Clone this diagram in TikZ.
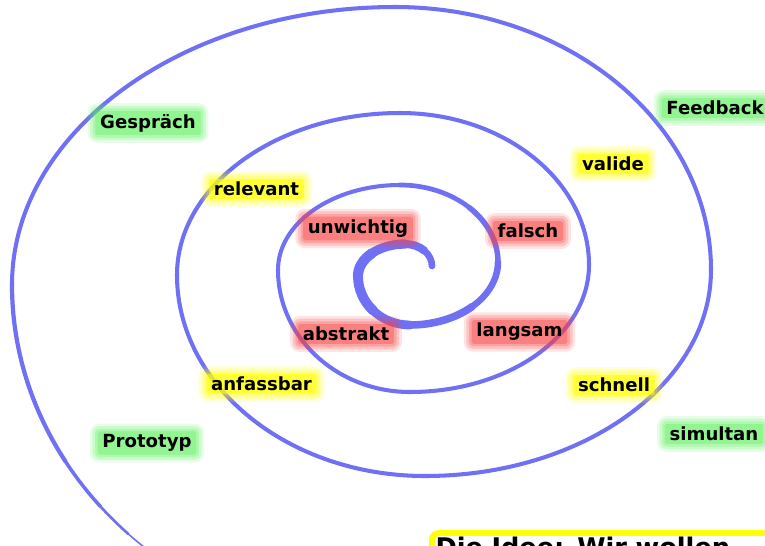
\documentclass[tikz,border=0pt]{standalone}
\usepackage{fontspec}
\setmainfont{DejaVu Sans}
\usetikzlibrary{positioning}

\definecolor{spiralblue}{RGB}{112,112,245}
\definecolor{glowgreen}{RGB}{91,240,91}
\definecolor{glowyellow}{RGB}{255,255,0}
\definecolor{glowred}{RGB}{247,65,65}

\pgfdeclarelayer{back}
\pgfdeclarelayer{mid}
\pgfsetlayers{back,mid,main}

\begin{document}
\begin{tikzpicture}[
  x=0.02cm, y=-0.02cm,
  spiral/.style={draw=spiralblue, line cap=round, line join=round},
  tag/.style={font=\fontsize{10.3}{12}\selectfont\bfseries, inner xsep=1.5pt, inner ysep=0.5pt},
  ideabox/.style={draw=glowyellow, fill=white, line width=3.4pt, rounded corners=4pt,
    font=\fontsize{14.6}{17}\selectfont\bfseries, inner xsep=2pt, inner ysep=2.5pt,
    text width=8.5cm, align=left}
]

\useasboundingbox (0,0) rectangle (765,545);
\clip (0,0) rectangle (765,545);

\begin{pgfonlayer}{back}
\clip (0,0) rectangle (765,545);
% Spiral centre, getting thinner outwards
\foreach \cx/\cy/\rx/\ry/\a/\b/\w in {
  405/266/27/22/0/-45/3.8, 405/266/27/22/-45/-90/4.6,
  405/276/47/32/-90/-135/5.3, 405/276/47/32/-135/-180/5.8,
  410/276/52/49/-180/-225/5.6, 410/276/52/49/-225/-270/5.0,
  410/262/88/63/90/45/4.3, 410/262/88/63/45/0/3.7,
  400/262/98/77/0/-45/3.1, 400/262/98/77/-45/-90/2.7}
  \draw[spiral, line width=\w pt] (\cx,\cy) ++({\a}:{\rx} and {\ry})
    arc[start angle=\a, end angle=\b, x radius=\rx, y radius=\ry];

% Spiral, outer turns
\draw[spiral, line width=2.3pt] (400,185)
  arc[start angle=-90, end angle=-180, x radius=122, y radius=85]
  arc[start angle=180, end angle=90, x radius=132, y radius=122]
  arc[start angle=90, end angle=0, x radius=179, y radius=127]
  arc[start angle=0, end angle=-90, x radius=189, y radius=152]
  arc[start angle=-90, end angle=-180, x radius=223, y radius=162]
  arc[start angle=180, end angle=90, x radius=248, y radius=201]
  arc[start angle=90, end angle=0, x radius=286, y radius=206]
  arc[start angle=0, end angle=-90, x radius=316, y radius=263]
  arc[start angle=-90, end angle=-180, x radius=383, y radius=278];

% Spiral, tapered tail
\foreach \a/\b/\w in {180/150/2.4, 150/141/2.0, 141/135/1.5, 135/129/0.9}
  \draw[spiral, line width=\w pt] (409,285) ++({\a}:{397} and {352})
    arc[start angle=\a, end angle=\b, x radius=397, y radius=352];
\end{pgfonlayer}

% Outer ring
\node[tag] (gespraech) at (148,123) {Gespräch};
\node[tag] (feedback) at (715,108) {Feedback};
\node[tag] (prototyp) at (147,443) {Prototyp};
\node[tag] (simultan) at (714,434) {simultan};

% Middle ring
\node[tag] (relevant) at (256.5,189) {relevant};
\node[tag] (valide) at (613,164) {valide};
\node[tag] (anfassbar) at (261.5,384) {anfassbar};
\node[tag] (schnell) at (614,385) {schnell};

% Inner ring
\node[tag] (unwichtig) at (358,228.5) {unwichtig};
\node[tag] (falsch) at (528,231) {falsch};
\node[tag] (abstrakt) at (346,334) {abstrakt};
\node[tag] (langsam) at (519.5,332) {langsam};

% Soft glow behind the words
\begin{pgfonlayer}{mid}
\clip (0,0) rectangle (765,545);
\foreach \n/\c/\o in {gespraech/glowgreen/0.35, feedback/glowgreen/0.35,
    prototyp/glowgreen/0.35, simultan/glowgreen/0.35,
    relevant/glowyellow/0.6, valide/glowyellow/0.6,
    anfassbar/glowyellow/0.6, schnell/glowyellow/0.6,
    unwichtig/glowred/0.35, falsch/glowred/0.35,
    abstrakt/glowred/0.35, langsam/glowred/0.35}
  \foreach \s/\f in {5.5pt/0.15, 4pt/0.2, 2.5pt/0.25, 1pt/\o}
    \fill[\c, fill opacity=\f, rounded corners=\s]
      ([shift={(-\s,-\s)}]\n.south west) rectangle ([shift={(\s,\s)}]\n.north east);
\end{pgfonlayer}

% Idea box, cut by the lower edge
\node[ideabox, anchor=north west] (idee) at (429,530) {Die Idee: Wir wollen};

\end{tikzpicture}
\end{document}
